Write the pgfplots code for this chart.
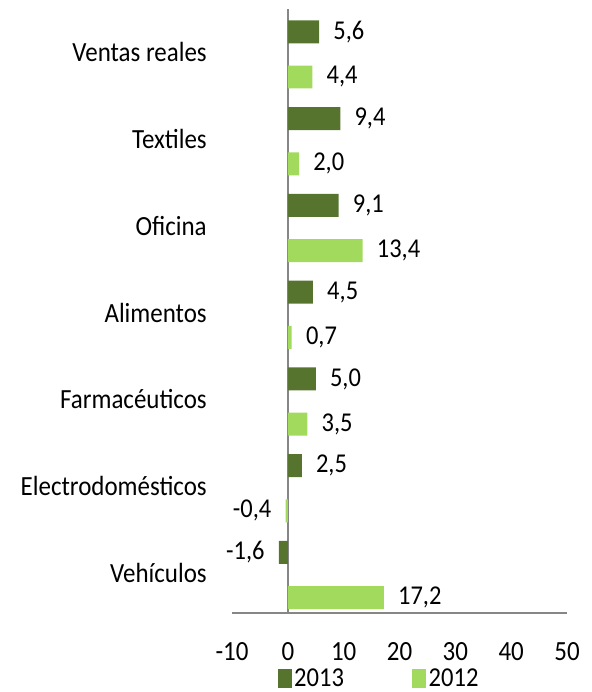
\documentclass[border=0pt]{standalone}
\usepackage{fontspec}
\setmainfont{Carlito}[FakeStretch=0.9]
\usepackage{pgfplots}
\pgfplotsset{compat=1.18}
\definecolor{axisgray}{HTML}{868686}
\definecolor{dk}{HTML}{57742F}
\definecolor{lt}{HTML}{A2DA5E}
\begin{document}
\begin{tikzpicture}
\path[use as bounding box] (0,0) rectangle (444pt,519pt);
\begin{axis}[
  at={(174pt,59.25pt)}, anchor=south west,
  scale only axis, width=251.25pt, height=453pt,
  xbar,
  xmin=-10, xmax=50, ymin=-0.438, ymax=6.524,
  xtick={-10,0,...,50},
  ytick={0,...,6},
  yticklabels={Vehículos, Electrodomésticos, Farmacéuticos, Alimentos, Oficina, Textiles, Ventas reales},
  major tick length=0pt,
  axis x line*=bottom, axis y line*=left,
  axis line style={-},
  x axis line style={draw=axisgray, line width=1.5pt},
  y axis line style={draw=none},
  extra x ticks={0}, extra x tick labels={},
  extra x tick style={grid=major, major grid style={draw=axisgray, line width=1.5pt}},
  xticklabel style={font=\fontsize{20.8}{22}\selectfont},
  yticklabel style={font=\fontsize{20.8}{22}\selectfont},
  /pgf/number format/assume math mode=true,
  yticklabel style={inner sep=0pt, anchor=east, yshift=1.5pt}, yticklabel shift=18.75pt,
  xticklabel style={inner sep=0pt, anchor=north}, xticklabel shift=22pt,
  bar width=0.265,
  point meta=x,
  nodes near coords={\pgfmathprintnumber[fixed,fixed zerofill,precision=1,use comma,assume math mode=true]{\pgfplotspointmeta}},
  nodes near coords align=horizontal,
  every node near coord/.append style={font=\fontsize{20.4}{22}\selectfont, inner xsep=10.5pt, inner ysep=0pt, text=black},
  legend style={at={(0.44,-0.108)}, anchor=center, draw=none, fill=none, legend columns=2,
    font=\fontsize{20.5}{21}\selectfont, inner sep=0pt,
    /tikz/every even column/.append style={column sep=49pt}},
  legend image code/.code={\path[#1] (0pt,-7pt) rectangle (10.5pt,7pt);},
]
\addplot[bar shift=0.26, draw=none, fill=dk]
  coordinates {(-1.6,0) (2.5,1) (5.0,2) (4.5,3) (9.1,4) (9.4,5) (5.6,6)};
\addlegendentry{2013}
\addplot[bar shift=-0.26, draw=none, fill=lt]
  coordinates {(17.2,0) (-0.4,1) (3.5,2) (0.7,3) (13.4,4) (2.0,5) (4.4,6)};
\addlegendentry{2012}
\end{axis}
\end{tikzpicture}
\end{document}
